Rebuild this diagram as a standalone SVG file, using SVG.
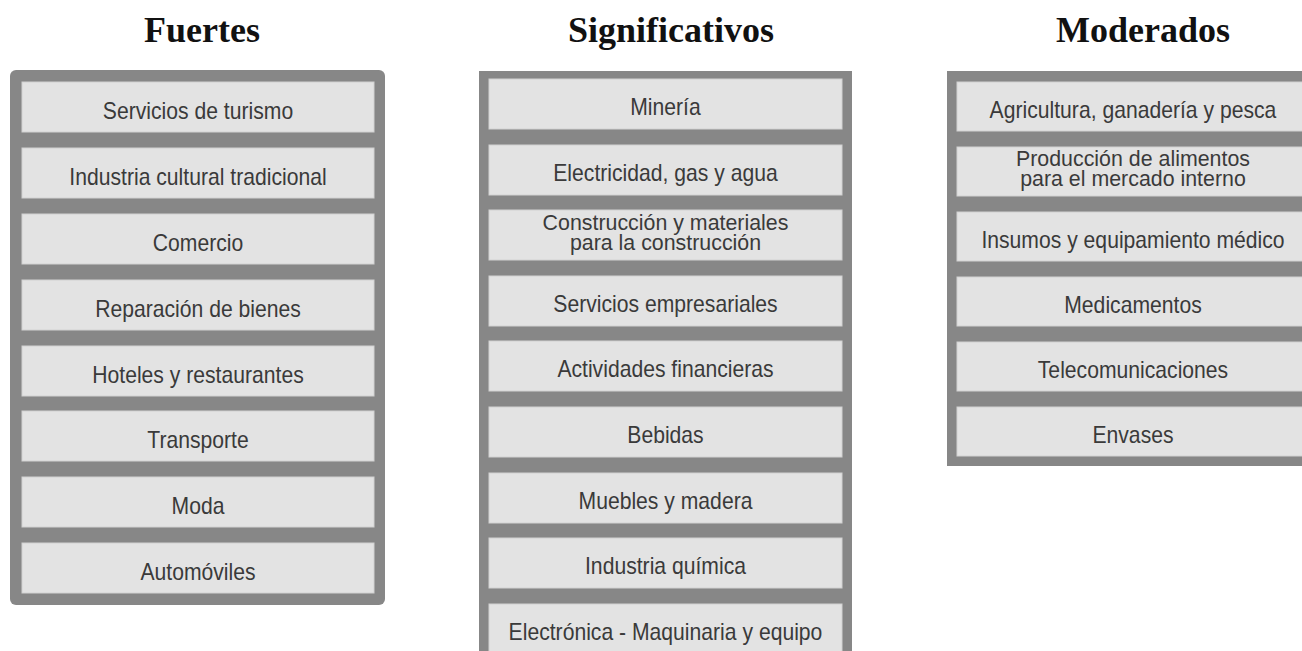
<svg xmlns="http://www.w3.org/2000/svg" width="1302" height="651" viewBox="0 0 1302 651">
<style>
.title{font-family:"Liberation Serif","Times New Roman",serif;font-weight:bold;font-size:36px;fill:#111;text-anchor:middle}
.panel{fill:#878787}
.box{fill:#e3e3e3;stroke:#d2d2d2;stroke-width:1}
.lbl{font-family:"Liberation Sans",Arial,sans-serif;font-size:23px;fill:#3a3a3a;text-anchor:middle}
.lbl2{font-family:"Liberation Sans",Arial,sans-serif;font-size:22.5px;fill:#3a3a3a;text-anchor:middle}
</style>
<rect width="1302" height="651" fill="#fff"/>
<text class="title" x="202" y="42">Fuertes</text>
<text class="title" x="671" y="42">Significativos</text>
<text class="title" x="1143" y="42">Moderados</text>

<g id="fuertes">
<rect class="panel" x="10" y="70" width="375" height="535" rx="6"/>
<g id="f1"><rect class="box" x="22" y="82" width="352" height="50"/><text class="lbl" x="198" y="119" transform="matrix(0.92,0,0,1,15.84,0)">Servicios de turismo</text></g>
<g id="f2"><rect class="box" x="22" y="148" width="352" height="50"/><text class="lbl" x="198" y="185" transform="matrix(0.92,0,0,1,15.84,0)">Industria cultural tradicional</text></g>
<g id="f3"><rect class="box" x="22" y="214" width="352" height="50"/><text class="lbl" x="198" y="251" transform="matrix(0.92,0,0,1,15.84,0)">Comercio</text></g>
<g id="f4"><rect class="box" x="22" y="280" width="352" height="50"/><text class="lbl" x="198" y="317" transform="matrix(0.92,0,0,1,15.84,0)">Reparación de bienes</text></g>
<g id="f5"><rect class="box" x="22" y="346" width="352" height="50"/><text class="lbl" x="198" y="383" transform="matrix(0.92,0,0,1,15.84,0)">Hoteles y restaurantes</text></g>
<g id="f6"><rect class="box" x="22" y="411" width="352" height="50"/><text class="lbl" x="198" y="448" transform="matrix(0.92,0,0,1,15.84,0)">Transporte</text></g>
<g id="f7"><rect class="box" x="22" y="477" width="352" height="50"/><text class="lbl" x="198" y="514" transform="matrix(0.92,0,0,1,15.84,0)">Moda</text></g>
<g id="f8"><rect class="box" x="22" y="543" width="352" height="50"/><text class="lbl" x="198" y="580" transform="matrix(0.92,0,0,1,15.84,0)">Automóviles</text></g>
</g>

<g id="significativos">
<rect class="panel" x="479" y="71" width="373" height="600"/>
<g id="s1"><rect class="box" x="489" y="79" width="353" height="50"/><text class="lbl" x="665.5" y="115" transform="matrix(0.92,0,0,1,53.24,0)">Minería</text></g>
<g id="s2"><rect class="box" x="489" y="145" width="353" height="50"/><text class="lbl" x="665.5" y="181" transform="matrix(0.92,0,0,1,53.24,0)">Electricidad, gas y agua</text></g>
<g id="s3"><rect class="box" x="489" y="210" width="353" height="50"/><text class="lbl2" x="665.5" y="230" transform="matrix(0.95,0,0,1,33.28,0)">Construcción y materiales</text><text class="lbl2" x="665.5" y="250" transform="matrix(0.95,0,0,1,33.28,0)">para la construcción</text></g>
<g id="s4"><rect class="box" x="489" y="276" width="353" height="50"/><text class="lbl" x="665.5" y="312" transform="matrix(0.92,0,0,1,53.24,0)">Servicios empresariales</text></g>
<g id="s5"><rect class="box" x="489" y="341" width="353" height="50"/><text class="lbl" x="665.5" y="377" transform="matrix(0.92,0,0,1,53.24,0)">Actividades financieras</text></g>
<g id="s6"><rect class="box" x="489" y="407" width="353" height="50"/><text class="lbl" x="665.5" y="443" transform="matrix(0.92,0,0,1,53.24,0)">Bebidas</text></g>
<g id="s7"><rect class="box" x="489" y="473" width="353" height="50"/><text class="lbl" x="665.5" y="509" transform="matrix(0.92,0,0,1,53.24,0)">Muebles y madera</text></g>
<g id="s8"><rect class="box" x="489" y="538" width="353" height="50"/><text class="lbl" x="665.5" y="574" transform="matrix(0.92,0,0,1,53.24,0)">Industria química</text></g>
<g id="s9"><rect class="box" x="489" y="604" width="353" height="50"/><text class="lbl" x="665.5" y="640" transform="matrix(0.92,0,0,1,53.24,0)">Electrónica - Maquinaria y equipo</text></g>
</g>

<g id="moderados">
<rect class="panel" x="947" y="71" width="372" height="395"/>
<g id="m1"><rect class="box" x="957" y="82" width="352" height="49"/><text class="lbl" x="1133" y="118" transform="matrix(0.92,0,0,1,90.64,0)">Agricultura, ganadería y pesca</text></g>
<g id="m2"><rect class="box" x="957" y="147" width="352" height="49"/><text class="lbl2" x="1133" y="166" transform="matrix(0.95,0,0,1,56.65,0)">Producción de alimentos</text><text class="lbl2" x="1133" y="186" transform="matrix(0.95,0,0,1,56.65,0)">para el mercado interno</text></g>
<g id="m3"><rect class="box" x="957" y="212" width="352" height="49"/><text class="lbl" x="1133" y="248" transform="matrix(0.92,0,0,1,90.64,0)">Insumos y equipamiento médico</text></g>
<g id="m4"><rect class="box" x="957" y="277" width="352" height="49"/><text class="lbl" x="1133" y="313" transform="matrix(0.92,0,0,1,90.64,0)">Medicamentos</text></g>
<g id="m5"><rect class="box" x="957" y="342" width="352" height="49"/><text class="lbl" x="1133" y="378" transform="matrix(0.92,0,0,1,90.64,0)">Telecomunicaciones</text></g>
<g id="m6"><rect class="box" x="957" y="407" width="352" height="49"/><text class="lbl" x="1133" y="443" transform="matrix(0.92,0,0,1,90.64,0)">Envases</text></g>
</g>
<g id="connectors"/>
</svg>
